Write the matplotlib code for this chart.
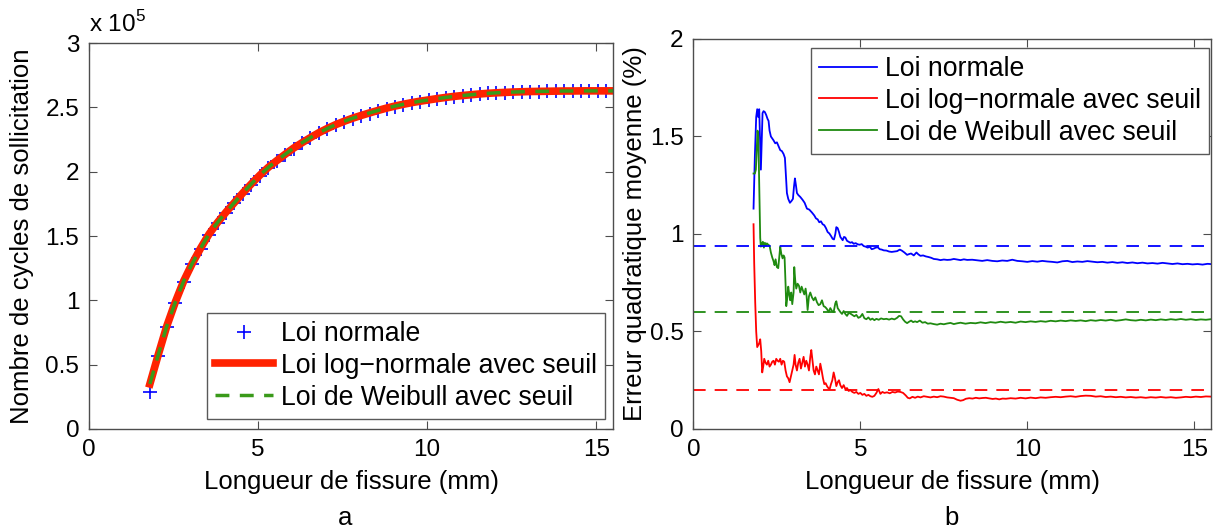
import numpy as np
import matplotlib
matplotlib.use('Agg')
import matplotlib.pyplot as plt
from matplotlib.ticker import FuncFormatter

plt.rcParams['font.family'] = ['Liberation Sans', 'DejaVu Sans']
plt.rcParams['mathtext.fontset'] = 'custom'
plt.rcParams['mathtext.rm'] = 'Liberation Sans'

# ---- panel a : number of cycles vs crack length (x 1e5) ----
a_len = np.round(np.arange(1.8, 15.56, 0.25), 2)   # sample grid (mm)
cyc_normal = [0.29, 0.57, 0.795, 0.98, 1.145, 1.28, 1.40, 1.51, 1.60, 1.68,
              1.755, 1.83, 1.90, 1.97, 2.03, 2.08, 2.13, 2.18, 2.22, 2.26,
              2.30, 2.33, 2.36, 2.385, 2.41, 2.43, 2.45, 2.47, 2.49, 2.505,
              2.52, 2.535, 2.545, 2.555, 2.565, 2.575, 2.583, 2.59, 2.597, 2.603,
              2.608, 2.612, 2.615, 2.618, 2.62, 2.622, 2.623, 2.624, 2.625, 2.626,
              2.626, 2.627, 2.627, 2.627, 2.627, 2.627]
cyc_lognorm = [0.35, 0.58, 0.80, 0.985, 1.15, 1.285, 1.405, 1.515, 1.605, 1.685,
               1.76, 1.835, 1.905, 1.972, 2.033, 2.085, 2.135, 2.183, 2.225, 2.265,
               2.303, 2.336, 2.366, 2.392, 2.416, 2.437, 2.457, 2.476, 2.494, 2.51,
               2.524, 2.537, 2.548, 2.558, 2.568, 2.577, 2.585, 2.592, 2.598, 2.604,
               2.609, 2.613, 2.616, 2.619, 2.621, 2.623, 2.624, 2.625, 2.626, 2.627,
               2.627, 2.628, 2.628, 2.628, 2.628, 2.628]
cyc_weibull = [0.35, 0.58, 0.80, 0.985, 1.15, 1.285, 1.405, 1.515, 1.605, 1.685,
               1.76, 1.835, 1.905, 1.972, 2.033, 2.085, 2.135, 2.183, 2.225, 2.265,
               2.303, 2.336, 2.366, 2.392, 2.416, 2.437, 2.457, 2.476, 2.494, 2.51,
               2.524, 2.537, 2.548, 2.558, 2.568, 2.577, 2.585, 2.592, 2.598, 2.604,
               2.609, 2.613, 2.616, 2.619, 2.621, 2.623, 2.624, 2.625, 2.626, 2.627,
               2.627, 2.628, 2.628, 2.628, 2.628, 2.628]

# ---- panel b : mean quadratic error (%) vs crack length ----
err_normal = [
    (1.80, 1.13), (1.84, 1.40), (1.88, 1.60), (1.91, 1.64), (1.94, 1.60), (1.97, 1.64),
    (2.00, 1.45), (2.02, 1.33), (2.05, 1.50), (2.07, 1.62), (2.10, 1.63), (2.14, 1.625),
    (2.18, 1.61), (2.22, 1.59), (2.25, 1.58), (2.28, 1.53), (2.32, 1.50), (2.36, 1.49),
    (2.40, 1.48), (2.45, 1.465), (2.50, 1.47), (2.55, 1.45), (2.60, 1.43), (2.65, 1.425),
    (2.70, 1.41), (2.74, 1.39), (2.77, 1.30), (2.80, 1.21), (2.84, 1.18), (2.89, 1.16),
    (2.94, 1.17), (2.98, 1.18), (3.01, 1.24), (3.04, 1.285), (3.07, 1.25), (3.10, 1.21),
    (3.14, 1.20), (3.20, 1.19), (3.27, 1.175), (3.33, 1.16), (3.40, 1.13), (3.47, 1.125),
    (3.55, 1.11), (3.62, 1.095), (3.67, 1.08), (3.72, 1.075), (3.77, 1.06), (3.82, 1.065),
    (3.87, 1.05), (3.92, 1.045), (3.97, 1.03), (4.02, 1.01), (4.07, 1.003), (4.12, 0.99),
    (4.17, 0.975), (4.21, 0.972), (4.25, 1.00), (4.28, 1.035), (4.32, 1.03), (4.36, 1.01),
    (4.40, 0.985), (4.44, 0.975), (4.47, 0.968), (4.51, 0.985), (4.55, 0.982), (4.60, 0.965),
    (4.65, 0.96), (4.70, 0.955), (4.75, 0.958), (4.80, 0.950), (4.86, 0.953), (4.92, 0.947),
    (4.98, 0.945), (5.04, 0.948), (5.10, 0.938), (5.16, 0.935), (5.22, 0.93), (5.28, 0.935),
    (5.34, 0.922), (5.40, 0.925), (5.46, 0.93), (5.52, 0.932), (5.58, 0.922), (5.64, 0.920),
    (5.70, 0.916), (5.78, 0.915), (5.86, 0.91), (5.94, 0.908), (6.02, 0.91), (6.10, 0.912),
    (6.18, 0.92), (6.24, 0.915), (6.32, 0.905), (6.40, 0.893), (6.46, 0.897), (6.52, 0.90),
    (6.60, 0.89), (6.68, 0.905), (6.74, 0.895), (6.80, 0.888), (6.88, 0.89), (6.96, 0.885),
    (7.04, 0.882), (7.12, 0.878), (7.20, 0.872), (7.30, 0.870), (7.40, 0.866), (7.50, 0.869),
    (7.60, 0.867), (7.70, 0.868), (7.80, 0.872), (7.90, 0.869), (8.00, 0.866), (8.10, 0.870),
    (8.20, 0.867), (8.35, 0.868), (8.50, 0.865), (8.65, 0.862), (8.80, 0.866), (8.95, 0.862),
    (9.10, 0.860), (9.25, 0.864), (9.40, 0.862), (9.55, 0.868), (9.70, 0.862), (9.85, 0.86),
    (10.00, 0.857), (10.15, 0.861), (10.30, 0.858), (10.45, 0.862), (10.60, 0.859), (10.75, 0.857),
    (10.90, 0.854), (11.05, 0.860), (11.20, 0.862), (11.35, 0.856), (11.50, 0.859), (11.65, 0.857),
    (11.80, 0.861), (11.95, 0.858), (12.10, 0.855), (12.25, 0.857), (12.40, 0.853), (12.55, 0.856),
    (12.70, 0.852), (12.85, 0.855), (13.00, 0.851), (13.15, 0.854), (13.30, 0.850), (13.45, 0.853),
    (13.60, 0.849), (13.75, 0.851), (13.90, 0.848), (14.05, 0.852), (14.20, 0.849), (14.35, 0.846),
    (14.50, 0.849), (14.65, 0.845), (14.80, 0.847), (14.95, 0.844), (15.10, 0.846), (15.25, 0.843),
    (15.40, 0.847), (15.55, 0.845)]

err_weibull = [
    (1.80, 1.31), (1.84, 1.31), (1.87, 1.33), (1.90, 1.45), (1.92, 1.53), (1.94, 1.50),
    (1.96, 1.35), (1.98, 1.15), (2.00, 0.98), (2.02, 0.935), (2.05, 0.95), (2.08, 0.96),
    (2.11, 0.93), (2.14, 0.955), (2.17, 0.94), (2.20, 0.952), (2.24, 0.945), (2.28, 0.94),
    (2.32, 0.905), (2.36, 0.88), (2.40, 0.86), (2.43, 0.84), (2.46, 0.87), (2.50, 0.83),
    (2.54, 0.825), (2.57, 0.88), (2.60, 0.935), (2.63, 0.90), (2.67, 0.875), (2.70, 0.89),
    (2.73, 0.88), (2.76, 0.74), (2.78, 0.63), (2.81, 0.67), (2.84, 0.73), (2.87, 0.69),
    (2.90, 0.66), (2.93, 0.70), (2.96, 0.64), (3.00, 0.70), (3.02, 0.83), (3.05, 0.76),
    (3.08, 0.72), (3.12, 0.745), (3.16, 0.735), (3.20, 0.70), (3.24, 0.73), (3.28, 0.71),
    (3.32, 0.69), (3.36, 0.72), (3.39, 0.68), (3.42, 0.61), (3.46, 0.68), (3.50, 0.70),
    (3.55, 0.675), (3.60, 0.66), (3.65, 0.675), (3.70, 0.65), (3.75, 0.635), (3.80, 0.64),
    (3.85, 0.66), (3.90, 0.63), (3.95, 0.625), (4.00, 0.615), (4.05, 0.60), (4.10, 0.62),
    (4.15, 0.605), (4.20, 0.60), (4.25, 0.645), (4.28, 0.655), (4.32, 0.62), (4.36, 0.61),
    (4.40, 0.60), (4.45, 0.59), (4.50, 0.605), (4.55, 0.59), (4.60, 0.58), (4.65, 0.595),
    (4.70, 0.592), (4.76, 0.585), (4.82, 0.578), (4.88, 0.585), (4.94, 0.57), (5.00, 0.575),
    (5.06, 0.59), (5.12, 0.568), (5.18, 0.563), (5.24, 0.572), (5.30, 0.56), (5.36, 0.566),
    (5.42, 0.558), (5.48, 0.565), (5.55, 0.56), (5.62, 0.567), (5.70, 0.563), (5.78, 0.565),
    (5.86, 0.561), (5.94, 0.566), (6.02, 0.562), (6.10, 0.57), (6.16, 0.58), (6.22, 0.578),
    (6.28, 0.562), (6.34, 0.55), (6.40, 0.543), (6.46, 0.55), (6.52, 0.556), (6.58, 0.548),
    (6.64, 0.552), (6.70, 0.548), (6.78, 0.556), (6.86, 0.545), (6.94, 0.548), (7.02, 0.54),
    (7.10, 0.542), (7.20, 0.538), (7.30, 0.535), (7.40, 0.54), (7.50, 0.537), (7.60, 0.541),
    (7.70, 0.544), (7.80, 0.538), (7.90, 0.542), (8.00, 0.545), (8.15, 0.54), (8.30, 0.544),
    (8.45, 0.542), (8.60, 0.547), (8.75, 0.543), (8.90, 0.548), (9.05, 0.545), (9.20, 0.55),
    (9.35, 0.546), (9.50, 0.549), (9.65, 0.545), (9.80, 0.551), (9.95, 0.548), (10.10, 0.552),
    (10.25, 0.549), (10.40, 0.553), (10.55, 0.55), (10.70, 0.555), (10.85, 0.552), (11.00, 0.556),
    (11.15, 0.553), (11.30, 0.557), (11.45, 0.554), (11.60, 0.557), (11.75, 0.553), (11.90, 0.558),
    (12.05, 0.555), (12.20, 0.559), (12.35, 0.556), (12.50, 0.56), (12.65, 0.555), (12.80, 0.558),
    (12.95, 0.562), (13.10, 0.558), (13.25, 0.556), (13.40, 0.56), (13.55, 0.557), (13.70, 0.561),
    (13.85, 0.558), (14.00, 0.562), (14.15, 0.559), (14.30, 0.563), (14.45, 0.56), (14.60, 0.564),
    (14.75, 0.56), (14.90, 0.563), (15.05, 0.559), (15.20, 0.562), (15.35, 0.56), (15.50, 0.563)]

err_lognorm = [
    (1.80, 1.05), (1.82, 0.85), (1.85, 0.65), (1.88, 0.50), (1.91, 0.42), (1.94, 0.43),
    (1.97, 0.44), (2.00, 0.46), (2.03, 0.40), (2.06, 0.29), (2.09, 0.32), (2.12, 0.36),
    (2.16, 0.34), (2.20, 0.33), (2.24, 0.35), (2.28, 0.32), (2.32, 0.33), (2.36, 0.345),
    (2.40, 0.35), (2.44, 0.33), (2.48, 0.36), (2.52, 0.35), (2.56, 0.345), (2.60, 0.36),
    (2.64, 0.33), (2.68, 0.35), (2.72, 0.345), (2.76, 0.30), (2.80, 0.27), (2.84, 0.26),
    (2.88, 0.24), (2.92, 0.27), (2.96, 0.30), (3.00, 0.33), (3.03, 0.38), (3.06, 0.33),
    (3.10, 0.30), (3.14, 0.34), (3.18, 0.36), (3.22, 0.31), (3.26, 0.34), (3.30, 0.37),
    (3.34, 0.32), (3.38, 0.35), (3.42, 0.33), (3.46, 0.30), (3.50, 0.37), (3.53, 0.405),
    (3.56, 0.36), (3.60, 0.30), (3.64, 0.28), (3.68, 0.32), (3.72, 0.30), (3.76, 0.28),
    (3.80, 0.335), (3.84, 0.30), (3.88, 0.26), (3.92, 0.23), (3.96, 0.235), (4.00, 0.22),
    (4.04, 0.21), (4.08, 0.205), (4.12, 0.23), (4.16, 0.25), (4.20, 0.29), (4.24, 0.26),
    (4.28, 0.22), (4.32, 0.24), (4.36, 0.25), (4.40, 0.225), (4.45, 0.21), (4.50, 0.225),
    (4.55, 0.205), (4.60, 0.21), (4.65, 0.195), (4.70, 0.20), (4.76, 0.19), (4.82, 0.185),
    (4.88, 0.19), (4.94, 0.18), (5.00, 0.185), (5.06, 0.175), (5.12, 0.18), (5.18, 0.17),
    (5.24, 0.175), (5.30, 0.168), (5.36, 0.165), (5.42, 0.17), (5.48, 0.185), (5.54, 0.205),
    (5.60, 0.18), (5.66, 0.19), (5.72, 0.185), (5.80, 0.188), (5.88, 0.183), (5.96, 0.19),
    (6.04, 0.187), (6.12, 0.192), (6.20, 0.19), (6.28, 0.185), (6.36, 0.172), (6.42, 0.16),
    (6.48, 0.157), (6.56, 0.165), (6.64, 0.16), (6.72, 0.166), (6.80, 0.162), (6.90, 0.168),
    (7.00, 0.165), (7.10, 0.162), (7.20, 0.166), (7.30, 0.163), (7.40, 0.168), (7.50, 0.166),
    (7.60, 0.162), (7.70, 0.16), (7.80, 0.158), (7.90, 0.15), (8.00, 0.145), (8.08, 0.148),
    (8.16, 0.155), (8.26, 0.158), (8.36, 0.156), (8.46, 0.16), (8.56, 0.157), (8.66, 0.159),
    (8.76, 0.16), (8.86, 0.157), (8.96, 0.154), (9.06, 0.156), (9.16, 0.152), (9.26, 0.156),
    (9.36, 0.155), (9.50, 0.158), (9.65, 0.156), (9.80, 0.16), (9.95, 0.157), (10.10, 0.161),
    (10.25, 0.158), (10.40, 0.162), (10.55, 0.16), (10.70, 0.163), (10.85, 0.165), (11.00, 0.163),
    (11.15, 0.166), (11.30, 0.168), (11.45, 0.165), (11.60, 0.169), (11.75, 0.171), (11.90, 0.17),
    (12.05, 0.166), (12.20, 0.168), (12.35, 0.164), (12.50, 0.166), (12.65, 0.163), (12.80, 0.165),
    (12.95, 0.162), (13.10, 0.164), (13.25, 0.161), (13.40, 0.163), (13.55, 0.16), (13.70, 0.163),
    (13.85, 0.161), (14.00, 0.164), (14.15, 0.161), (14.30, 0.163), (14.45, 0.16), (14.60, 0.162),
    (14.75, 0.165), (14.90, 0.163), (15.05, 0.166), (15.20, 0.164), (15.35, 0.167), (15.50, 0.166)]

# global (asymptotic) error levels, dashed
ref_normal, ref_weibull, ref_lognorm = 0.94, 0.60, 0.20

labels = ['Loi normale', 'Loi log\u2212normale avec seuil', 'Loi de Weibull avec seuil']
c_blue, c_red, c_green = '#0000ff', '#ff0000', '#1f8a10'

fig = plt.figure(figsize=(12.23, 5.31), dpi=100)
ax1 = fig.add_axes([0.0728, 0.1921, 0.4285, 0.7269])
ax2 = fig.add_axes([0.567, 0.1921, 0.4231, 0.7345])

FS_TICK, FS_LAB, FS_LEG = 17.5, 18.5, 19.2
leg_kw = dict(fontsize=FS_LEG, fancybox=False, edgecolor='0.35', framealpha=1,
              borderpad=0.3, labelspacing=0.22, handlelength=2.2,
              handletextpad=0.3, borderaxespad=0)

# Panel a
ax1.plot(a_len, np.array(cyc_normal) * 1e5, '+', color=c_blue, ms=10, mew=1.2,
         label=labels[0])
ax1.plot(a_len, np.array(cyc_lognorm) * 1e5, '-', color='#ff2200', lw=5.5,
         label=labels[1])
ax1.plot(a_len, np.array(cyc_weibull) * 1e5, '--', color='#3a9a1a', lw=2.5,
         dashes=(4, 3), label=labels[2])
ax1.set_xlim(0, 15.5)
ax1.set_ylim(0, 3e5)
ax1.set_xticks([0, 5, 10, 15])
ax1.set_yticks(np.arange(0, 3.01e5, 0.5e5))
ax1.yaxis.set_major_formatter(FuncFormatter(lambda v, p: '%g' % (v / 1e5)))
ax1.text(0.0, 1.015, r'x 10$^{5}$', transform=ax1.transAxes, fontsize=FS_TICK,
         ha='left', va='bottom')
ax1.set_xlabel('Longueur de fissure (mm)', fontsize=FS_LAB, labelpad=7)
ax1.set_ylabel('Nombre de cycles de sollicitation', fontsize=FS_LAB, labelpad=8)
leg1 = ax1.legend(loc='lower right', bbox_to_anchor=(0.985, 0.027), **leg_kw)
leg1.get_frame().set_linewidth(1.0)

# Panel b
bx, by = zip(*err_normal)
rx, ry = zip(*err_lognorm)
gx, gy = zip(*err_weibull)
ax2.plot(bx, by, color=c_blue, lw=1.3, label=labels[0])
ax2.plot(rx, ry, color=c_red, lw=1.3, label=labels[1])
ax2.plot(gx, gy, color=c_green, lw=1.3, label=labels[2])
ax2.axhline(ref_normal, color=c_blue, lw=1.3, dashes=(7, 5))
ax2.axhline(ref_weibull, color=c_green, lw=1.3, dashes=(7, 5))
ax2.axhline(ref_lognorm, color=c_red, lw=1.3, dashes=(7, 5))
ax2.set_xlim(0, 15.5)
ax2.set_ylim(0, 2)
ax2.set_xticks([0, 5, 10, 15])
ax2.set_yticks([0, 0.5, 1, 1.5, 2])
ax2.yaxis.set_major_formatter(FuncFormatter(lambda v, p: '%g' % v))
ax2.set_xlabel('Longueur de fissure (mm)', fontsize=FS_LAB, labelpad=7)
ax2.set_ylabel('Erreur quadratique moyenne (%)', fontsize=FS_LAB, labelpad=2)
leg2 = ax2.legend(loc='upper right', bbox_to_anchor=(0.997, 0.977), **leg_kw)
leg2.get_frame().set_linewidth(1.0)

for ax in (ax1, ax2):
    ax.tick_params(direction='in', top=True, right=True, length=6, width=0.8,
                   labelsize=FS_TICK, color='0.3', pad=7)
    for s in ax.spines.values():
        s.set_color('0.3')
        s.set_linewidth(1.0)

fig.text(0.282, 0.0245, 'a', fontsize=FS_LAB, ha='center', va='center')
fig.text(0.778, 0.0245, 'b', fontsize=FS_LAB, ha='center', va='center')

fig.savefig('out.png', dpi=100)
